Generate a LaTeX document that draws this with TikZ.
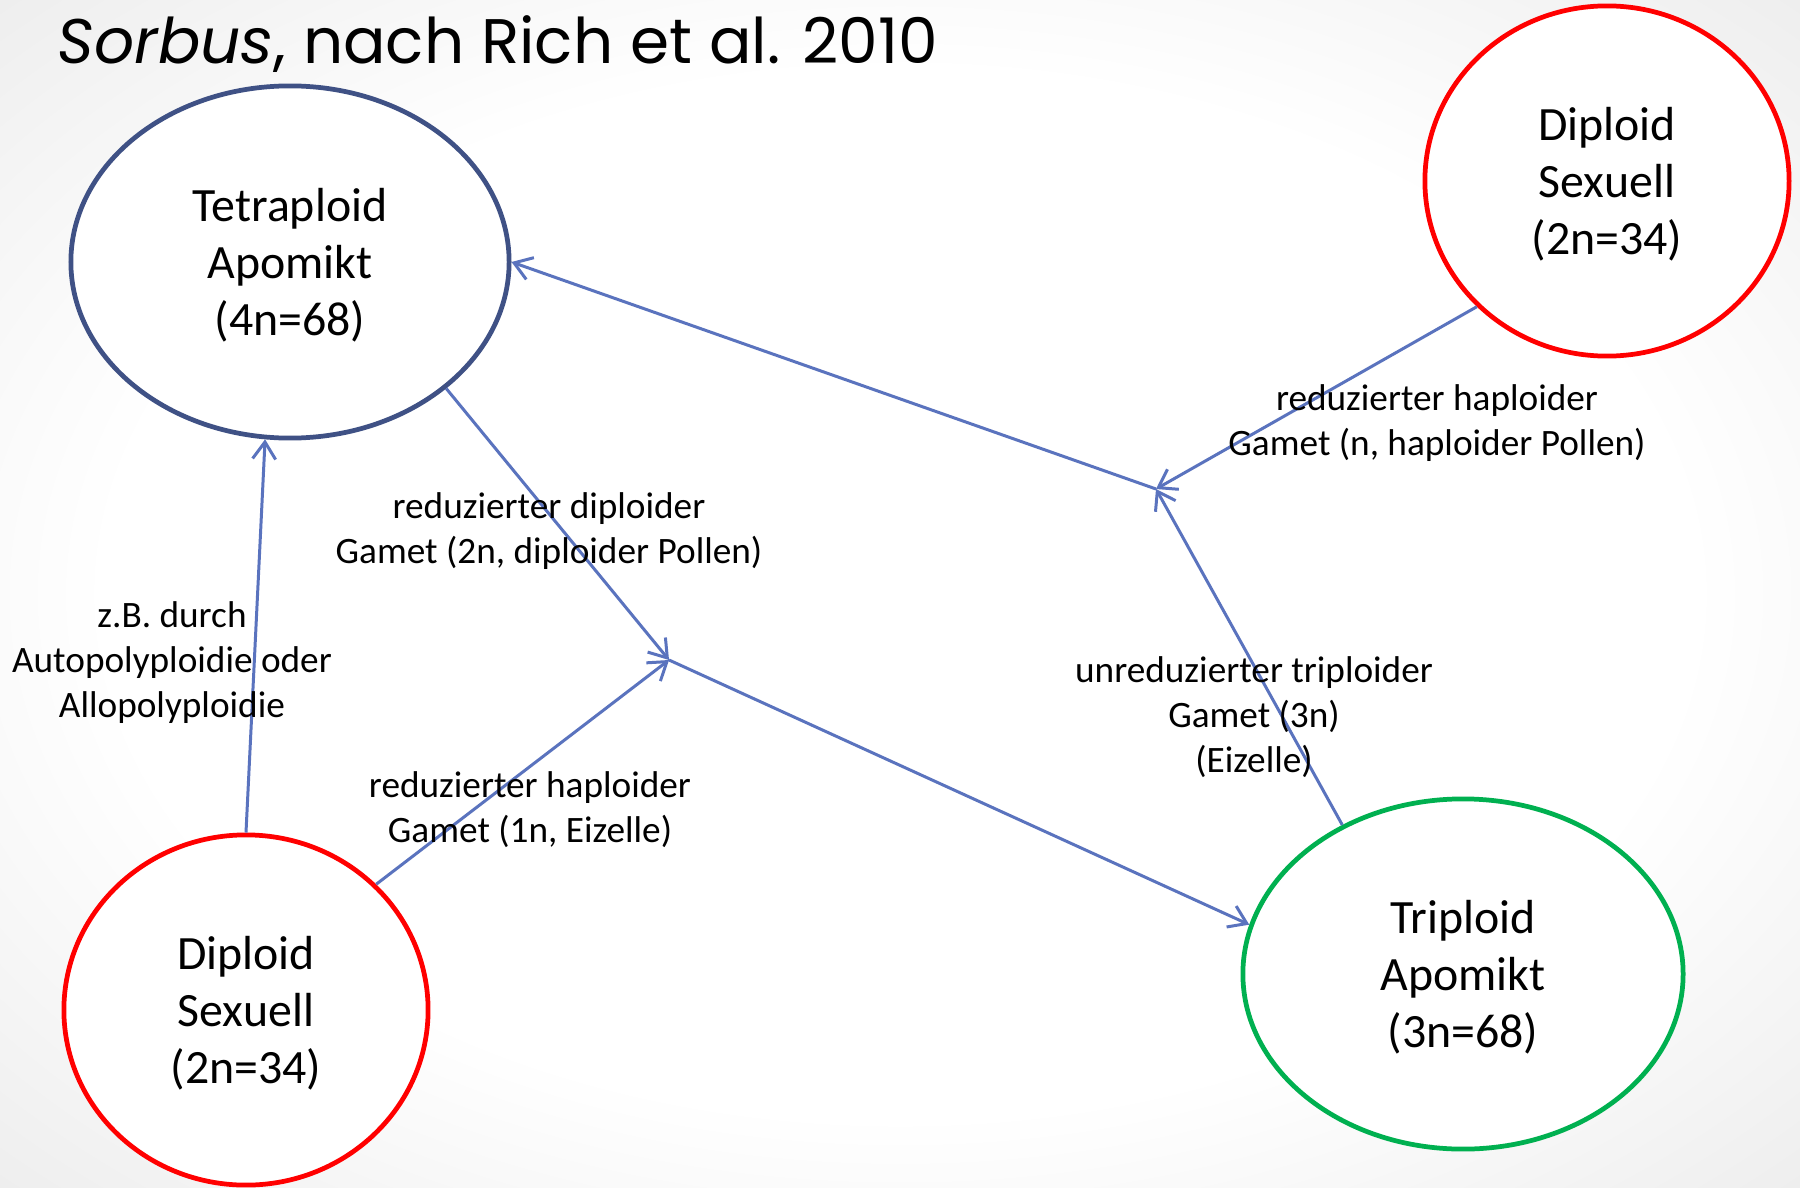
\documentclass[tikz,border=0pt]{standalone}
\usepackage{fontspec}
\setmainfont{Carlito}
\newfontfamily\titlefont{Poppins}
\usetikzlibrary{arrows.meta,positioning,shapes.geometric}
\definecolor{tetrablue}{RGB}{63,81,133}
\definecolor{sexred}{RGB}{255,0,0}
\definecolor{apogreen}{RGB}{0,176,80}
\definecolor{arblue}{RGB}{90,115,190}
\pgfdeclareradialshading{slidebg}{\pgfpoint{0bp}{0bp}}{color(0bp)=(white);color(22bp)=(white);color(50bp)=(black!14);color(72bp)=(black!17)}

\begin{document}
\begin{tikzpicture}[x=0.01cm,y=-0.01cm,
  el/.style={ellipse,draw,line width=1.35pt,fill=white,align=center,inner sep=0pt,text depth=0pt,font=\fontsize{13.6}{16.3}\selectfont},
  tet/.style={el,draw=tetrablue,minimum width=4.38cm,minimum height=3.52cm},
  sex/.style={el,draw=sexred,minimum width=3.64cm,minimum height=3.5cm},
  tri/.style={el,draw=apogreen,minimum width=4.4cm,minimum height=3.5cm},
  lab/.style={align=center,inner sep=0pt,font=\fontsize{10.6}{12.8}\selectfont},
  ar/.style={draw=arblue,line width=0.85pt,-{Straight Barb[length=1.7mm,width=2.3mm]}}
]
\useasboundingbox (0,0) rectangle (1800,1188);
\shade[shading=slidebg] (0,0) rectangle (1800,1188);
\node[anchor=base west,inner sep=0pt,font=\titlefont\fontsize{17.9}{20}\selectfont] (title) at (57,64) {\textit{Sorbus}, nach Rich et al. 2010};
% ploidy levels
\node[tet] (tetra) at (290,262) {Tetraploid\\Apomikt\\(4n=68)};
\node[sex] (dipTR) at (1607,181) {Diploid\\Sexuell\\(2n=34)};
\node[sex] (dipBL) at (246,1010) {Diploid\\Sexuell\\(2n=34)};
\node[tri] (trip) at (1463,974) {Triploid\\Apomikt\\(3n=68)};
% meeting points of the gametes
\coordinate (mA) at (669,660);
\coordinate (mB) at (1156,489);
\draw[ar] (dipBL.90) -- (tetra.-98);
\draw[ar] (tetra.-39.5) -- (mA);
\draw[ar] (dipBL.44) -- (mA);
\draw[ar] (mA) -- (trip.167);
\draw[ar] (trip.129) -- (mB);
\draw[ar] (dipTR.224) -- (mB);
\draw[ar] (mB) -- (tetra.0);
% labels
\node[lab] (lDip) at (549,531) {reduzierter diploider\\Gamet (2n, diploider Pollen)};
\node[lab] (lAuto) at (172,663) {z.B. durch\\Autopolyploidie oder\\Allopolyploidie};
\node[lab] (lHapA) at (530,810) {reduzierter haploider\\Gamet (1n, Eizelle)};
\node[lab] (lTri) at (1254,717) {unreduzierter triploider\\Gamet (3n)\\(Eizelle)};
\node[lab] (lHapB) at (1437,423) {reduzierter haploider\\Gamet (n, haploider Pollen)};
\end{tikzpicture}
\end{document}
